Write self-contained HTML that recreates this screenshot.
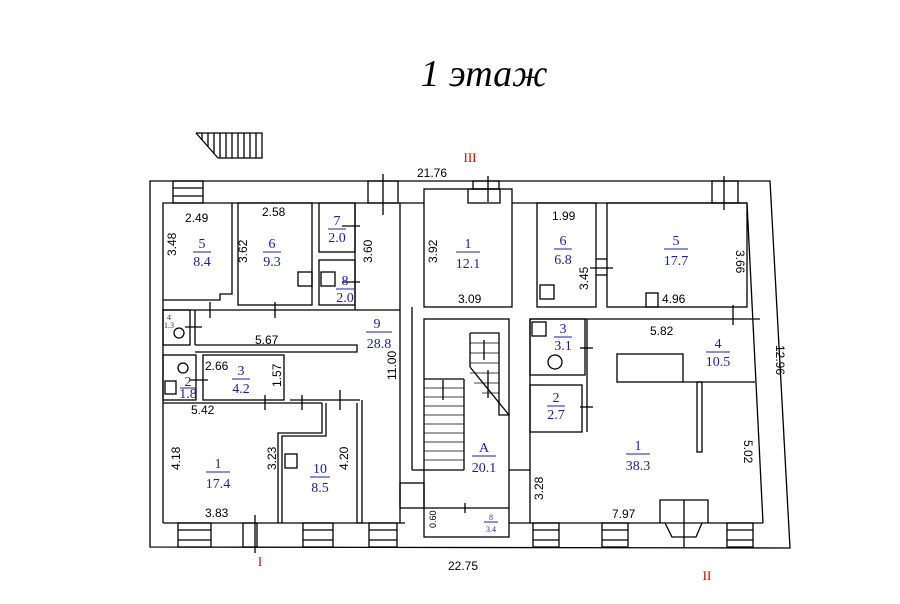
<!DOCTYPE html>
<html><head><meta charset="utf-8"><style>
html,body{margin:0;padding:0;background:#fff;}
svg{display:block}
.w{fill:none;stroke:#000;stroke-width:1.3}
.t{font-family:"Liberation Sans",sans-serif;font-size:12px;fill:#000}
.b{font-family:"Liberation Serif",serif;font-size:14px;fill:#1c1ca0;text-anchor:middle}
.s{font-family:"Liberation Serif",serif;font-size:8px;fill:#1c1ca0;text-anchor:middle}
.r{font-family:"Liberation Serif",serif;font-size:13px;fill:#c00;text-anchor:middle}
</style></head><body>
<svg width="900" height="604" viewBox="0 0 900 604">
<text x="484" y="86" text-anchor="middle" font-family="Liberation Serif,serif" font-style="italic" font-size="38">1 этаж</text>
<g class="w" stroke-width="1">
<polyline points="196,133 262,133 262,158 218,158 196,133"/>
<line x1="202" y1="133" x2="202" y2="140"/><line x1="208" y1="133" x2="208" y2="147"/><line x1="214" y1="133" x2="214" y2="153"/>
<line x1="220" y1="133" x2="220" y2="158"/><line x1="226" y1="133" x2="226" y2="158"/><line x1="232" y1="133" x2="232" y2="158"/>
<line x1="238" y1="133" x2="238" y2="158"/><line x1="244" y1="133" x2="244" y2="158"/><line x1="250" y1="133" x2="250" y2="158"/><line x1="256" y1="133" x2="256" y2="158"/>
</g>
<g class="w">
<polygon points="150,181 770,181 790,548 150,547"/>
<polyline points="163,523 163,203 400,203 400,523"/>
<line x1="163" y1="523" x2="405" y2="523"/>
<line x1="400" y1="203" x2="424" y2="203"/>
<line x1="512" y1="203" x2="747" y2="203"/>
<line x1="747" y1="203" x2="763" y2="523"/>
<line x1="509" y1="523" x2="763" y2="523"/>
<rect x="173" y="181" width="30" height="22"/><line x1="173" y1="188" x2="203" y2="188"/><line x1="173" y1="196" x2="203" y2="196"/>
<rect x="368" y="181" width="30" height="22"/><line x1="383" y1="174" x2="383" y2="215"/>
<rect x="473" y="181" width="26" height="8"/><line x1="488" y1="176" x2="488" y2="202"/>
<rect x="712" y="181" width="26" height="22"/><line x1="724" y1="176" x2="724" y2="210"/>
<rect x="178" y="523" width="33" height="24"/><line x1="178" y1="530" x2="211" y2="530"/><line x1="178" y1="540" x2="211" y2="540"/>
<rect x="243" y="523" width="14" height="24"/><line x1="255" y1="515" x2="255" y2="553"/>
<rect x="303" y="523" width="30" height="24"/><line x1="303" y1="530" x2="333" y2="530"/><line x1="303" y1="540" x2="333" y2="540"/>
<rect x="369" y="523" width="28" height="24"/><line x1="369" y1="530" x2="397" y2="530"/><line x1="369" y1="540" x2="397" y2="540"/>
<rect x="533" y="523" width="26" height="24"/><line x1="533" y1="530" x2="559" y2="530"/><line x1="533" y1="540" x2="559" y2="540"/>
<rect x="602" y="523" width="26" height="24"/><line x1="602" y1="530" x2="628" y2="530"/><line x1="602" y1="540" x2="628" y2="540"/>
<rect x="727" y="523" width="26" height="24"/><line x1="727" y1="530" x2="753" y2="530"/><line x1="727" y1="540" x2="753" y2="540"/>
<polyline points="163,300 220,300 220,294 232,294 232,203"/>
<rect x="238" y="203" width="74" height="102"/>
<rect x="319" y="203" width="36" height="49"/>
<rect x="319" y="260" width="36" height="45"/>
<line x1="163" y1="310" x2="400" y2="310"/>
<line x1="355" y1="203" x2="355" y2="310"/>
<rect x="163" y="310" width="27" height="35"/>
<polyline points="195,310 195,345"/>
<polyline points="195,352 357,352 357,345 195,345"/>
<rect x="163" y="355" width="33" height="45"/>
<rect x="203" y="355" width="81" height="45"/>
<line x1="163" y1="403" x2="322" y2="403"/>
<line x1="290" y1="400" x2="360" y2="400"/>
<polyline points="322,403 322,433 278,433 278,523"/>
<polyline points="282,523 282,436 326,436 326,403"/>
<polyline points="357,403 357,523 362,523 362,400"/>
<line x1="210" y1="302" x2="210" y2="318"/><line x1="275" y1="302" x2="275" y2="318"/>
<line x1="185" y1="327" x2="202" y2="327"/><line x1="342" y1="226" x2="360" y2="226"/><line x1="342" y1="282" x2="360" y2="282"/>
<line x1="190" y1="380" x2="208" y2="380"/><line x1="265" y1="395" x2="265" y2="410"/><line x1="302" y1="395" x2="302" y2="410"/><line x1="340" y1="390" x2="340" y2="410"/>
<rect x="298" y="272" width="14" height="14"/><rect x="321" y="272" width="14" height="14"/><rect x="285" y="454" width="12" height="14"/>
<circle cx="179" cy="333" r="5"/><circle cx="183" cy="368" r="5"/><rect x="165" y="381" width="11" height="13"/>
<rect x="424" y="189" width="88" height="118"/>
<rect x="468" y="189" width="32" height="14"/>
<line x1="412" y1="307" x2="412" y2="470"/>
<rect x="400" y="483" width="24" height="25"/>
<rect x="424" y="319" width="85" height="218"/>
<polyline points="470,333 499,333 499,415 509,415"/>
<line x1="470" y1="333" x2="470" y2="367"/>
<line x1="470" y1="367" x2="509" y2="415"/>
<line x1="424" y1="379" x2="464" y2="379"/><line x1="464" y1="379" x2="464" y2="470"/><line x1="424" y1="470" x2="464" y2="470"/>
<g stroke-width="0.8"><line x1="424" y1="388" x2="464" y2="388"/><line x1="424" y1="397" x2="464" y2="397"/><line x1="424" y1="406" x2="464" y2="406"/><line x1="424" y1="415" x2="464" y2="415"/><line x1="424" y1="424" x2="464" y2="424"/><line x1="424" y1="433" x2="464" y2="433"/><line x1="424" y1="442" x2="464" y2="442"/><line x1="424" y1="451" x2="464" y2="451"/><line x1="424" y1="460" x2="464" y2="460"/>
<line x1="470" y1="343" x2="499" y2="343"/><line x1="470" y1="353" x2="499" y2="353"/><line x1="470" y1="363" x2="499" y2="363"/><line x1="470" y1="373" x2="499" y2="373"/><line x1="474" y1="383" x2="499" y2="383"/><line x1="482" y1="393" x2="499" y2="393"/></g>
<line x1="424" y1="508" x2="509" y2="508"/><line x1="465" y1="503" x2="465" y2="513"/>
<line x1="484" y1="340" x2="484" y2="360"/><line x1="488" y1="370" x2="488" y2="398"/><line x1="443" y1="400" x2="443" y2="380"/>
<rect x="537" y="203" width="59" height="104"/>
<rect x="607" y="203" width="140" height="104"/>
<rect x="540" y="285" width="14" height="14"/><rect x="646" y="293" width="12" height="14"/>
<line x1="596" y1="259" x2="607" y2="259"/><line x1="596" y1="275" x2="607" y2="275"/><line x1="590" y1="268" x2="613" y2="268"/>
<line x1="530" y1="319" x2="760" y2="319"/>
<line x1="530" y1="319" x2="530" y2="523"/>
<rect x="530" y="319" width="55" height="56"/>
<rect x="530" y="385" width="52" height="47"/>
<line x1="587" y1="319" x2="587" y2="432"/>
<line x1="580" y1="348" x2="593" y2="348"/><line x1="580" y1="407" x2="593" y2="407"/>
<rect x="532" y="322" width="14" height="14"/><circle cx="555" cy="362" r="7"/>
<rect x="617" y="354" width="66" height="28"/>
<line x1="683" y1="382" x2="755" y2="382"/>
<rect x="697" y="382" width="5" height="70"/>
<line x1="733" y1="305" x2="733" y2="325"/>
<polyline points="660,523 660,500 708,500 708,523"/>
<polyline points="665,523 672,537 696,537 702,523"/>
<line x1="684" y1="500" x2="684" y2="547"/>
<line x1="412" y1="470" x2="424" y2="470"/><line x1="509" y1="470" x2="530" y2="470"/>
</g>
<g class="t">
<text x="417" y="177">21.76</text>
<text x="448" y="570">22.75</text>
<text x="185" y="222">2.49</text><text x="262" y="216">2.58</text>
<text x="176" y="256" transform="rotate(-90 176 256)">3.48</text>
<text x="372" y="263" transform="rotate(-90 372 263)">3.60</text>
<text x="247" y="263" transform="rotate(-90 247 263)">3.62</text>
<text x="255" y="344">5.67</text>
<text x="205" y="370">2.66</text>
<text x="281" y="387" transform="rotate(-90 281 387)">1.57</text>
<text x="191" y="414">5.42</text>
<text x="180" y="470" transform="rotate(-90 180 470)">4.18</text>
<text x="276" y="470" transform="rotate(-90 276 470)">3.23</text>
<text x="348" y="470" transform="rotate(-90 348 470)">4.20</text>
<text x="396" y="380" transform="rotate(-90 396 380)">11.00</text>
<text x="205" y="517">3.83</text>
<text x="437" y="263" transform="rotate(-90 437 263)">3.92</text>
<text x="458" y="303">3.09</text>
<text x="552" y="220">1.99</text>
<text x="588" y="290" transform="rotate(-90 588 290)">3.45</text>
<text x="662" y="303">4.96</text>
<text x="736" y="250" transform="rotate(90 736 250)">3.66</text>
<text x="650" y="335">5.82</text>
<text x="744" y="440" transform="rotate(90 744 440)">5.02</text>
<text x="543" y="500" transform="rotate(-90 543 500)">3.28</text>
<text x="612" y="518">7.97</text>
<text x="776" y="345" transform="rotate(90 776 345)">12.96</text>
<text x="436" y="528" transform="rotate(-90 436 528)" font-size="9">0.60</text>
</g>
<g>
<text class="b" x="202" y="248">5</text><line x1="193" y1="252" x2="211" y2="252" stroke="#1c1ca0"/><text class="b" x="202" y="266">8.4</text>
<text class="b" x="272" y="248">6</text><line x1="263" y1="252" x2="281" y2="252" stroke="#1c1ca0"/><text class="b" x="272" y="266">9.3</text>
<text class="b" x="337" y="225">7</text><line x1="328" y1="229" x2="346" y2="229" stroke="#1c1ca0"/><text class="b" x="337" y="242">2.0</text>
<text class="b" x="345" y="285">8</text><line x1="336" y1="289" x2="354" y2="289" stroke="#1c1ca0"/><text class="b" x="345" y="302">2.0</text>
<text class="b" x="377" y="328">9</text><line x1="366" y1="332" x2="392" y2="332" stroke="#1c1ca0"/><text class="b" x="379" y="348">28.8</text>
<text class="s" x="169" y="320">4</text><text class="s" x="169" y="328">1.3</text>
<text class="b" x="188" y="386" font-size="11">2</text><line x1="180" y1="388" x2="196" y2="388" stroke="#1c1ca0"/><text class="b" x="188" y="398" font-size="11">1.8</text>
<text class="b" x="241" y="375">3</text><line x1="232" y1="379" x2="250" y2="379" stroke="#1c1ca0"/><text class="b" x="241" y="393">4.2</text>
<text class="b" x="218" y="468">1</text><line x1="206" y1="472" x2="230" y2="472" stroke="#1c1ca0"/><text class="b" x="218" y="488">17.4</text>
<text class="b" x="320" y="473">10</text><line x1="310" y1="477" x2="330" y2="477" stroke="#1c1ca0"/><text class="b" x="320" y="492">8.5</text>
<text class="b" x="468" y="248">1</text><line x1="456" y1="252" x2="480" y2="252" stroke="#1c1ca0"/><text class="b" x="468" y="268">12.1</text>
<text class="b" x="484" y="452">A</text><line x1="472" y1="456" x2="496" y2="456" stroke="#1c1ca0"/><text class="b" x="484" y="472">20.1</text>
<text class="s" x="491" y="520">8</text><line x1="484" y1="522" x2="498" y2="522" stroke="#1c1ca0"/><text class="s" x="491" y="532">3.4</text>
<text class="b" x="563" y="245">6</text><line x1="554" y1="249" x2="572" y2="249" stroke="#1c1ca0"/><text class="b" x="563" y="264">6.8</text>
<text class="b" x="676" y="245">5</text><line x1="664" y1="249" x2="688" y2="249" stroke="#1c1ca0"/><text class="b" x="676" y="265">17.7</text>
<text class="b" x="563" y="333">3</text><line x1="554" y1="337" x2="572" y2="337" stroke="#1c1ca0"/><text class="b" x="563" y="350">3.1</text>
<text class="b" x="556" y="402">2</text><line x1="547" y1="406" x2="565" y2="406" stroke="#1c1ca0"/><text class="b" x="556" y="419">2.7</text>
<text class="b" x="718" y="348">4</text><line x1="706" y1="352" x2="730" y2="352" stroke="#1c1ca0"/><text class="b" x="718" y="366">10.5</text>
<text class="b" x="638" y="450">1</text><line x1="626" y1="454" x2="650" y2="454" stroke="#1c1ca0"/><text class="b" x="638" y="470">38.3</text>
</g>
<text class="r" x="470" y="162">III</text>
<text class="r" x="260" y="566">I</text>
<text class="r" x="707" y="580">II</text>
</svg>
</body></html>
